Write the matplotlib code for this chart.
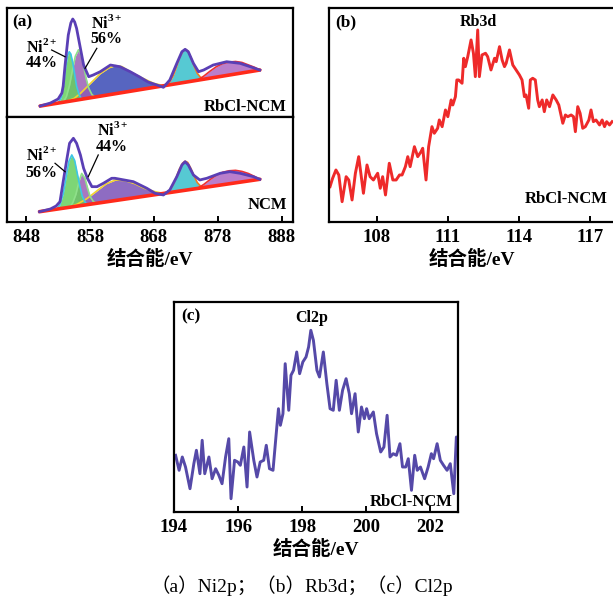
import numpy as np
import matplotlib.pyplot as plt

plt.rcParams['font.family'] = ['Liberation Serif', 'Noto Sans CJK SC']
plt.rcParams['mathtext.fontset'] = 'custom'
plt.rcParams['mathtext.bf'] = 'Liberation Serif:bold'
plt.rcParams['mathtext.rm'] = 'Liberation Serif'

# (a) Ni2p, RbCl-NCM (upper) -- envelope, baseline and fitted components (height above baseline)
env_a1_x = [850.2, 851.8, 853.0, 853.6, 853.8, 854.1, 854.6, 855.0, 855.3, 855.6, 855.9, 856.5, 857.0, 857.8,
            858.5, 859.6, 861.2, 862.7, 864.3, 865.8, 867.1, 868.5, 869.5, 870.5, 871.6, 872.4, 872.9, 873.4,
            874.2, 875.0, 875.8, 877.3, 879.4, 881.5, 883.1, 884.6]
env_a1_y = [11, 14, 18, 24, 31, 52, 82, 94, 98, 95, 88.7, 68.7, 52, 40.3,
            42, 45.3, 52, 50.3, 45.3, 40, 35, 32, 29.7, 37, 53.7, 65.3, 67.7, 65.3,
            53.7, 45.3, 47, 52, 55.3, 53.7, 50.3, 47]
base_a1_x = [850.2, 884.6]
base_a1_y = [11, 47]
ni2_a1_x = [853.0, 853.5, 853.9, 854.2, 854.5, 854.75, 855.0, 855.3, 855.6, 855.9, 856.3, 856.7]
ni2_a1_h = [0, 5, 18, 35, 46, 49.5, 47, 38, 26, 14, 5, 0]
ni3_a1_x = [853.8, 854.3, 854.8, 855.3, 855.7, 856.2, 856.6, 857.0, 857.4, 857.8, 858.3, 858.8]
ni3_a1_h = [0, 5, 16, 32, 44, 50, 45, 33, 20, 10, 3, 0]
sat1_a1_x = [854.0, 855.5, 856.5, 858.0, 859.6, 861.0, 862.0, 863.0, 864.0, 865.0, 866.0, 867.0, 868.0, 869.0, 869.7]
sat1_a1_h = [0, 2, 6, 14, 22.5, 27, 28, 26, 21, 16.5, 12, 8, 4, 1.5, 0]
p2_a1_x = [869.8, 870.5, 871.0, 871.5, 872.0, 872.5, 872.9, 873.3, 873.8, 874.3, 874.8, 875.3, 875.9]
p2_a1_h = [0, 3, 8, 16, 25, 31, 33, 31, 24, 15, 7, 2.5, 0]
sat2_a1_x = [874.8, 875.8, 876.8, 877.8, 878.8, 879.8, 880.8, 881.8, 882.8, 883.8, 884.6]
sat2_a1_h = [0, 3, 7, 10.5, 12.5, 13, 12.5, 10.5, 7, 3.5, 0]

# (a) Ni2p, NCM (lower)
env_a2_x = [850.1, 851.8, 852.7, 853.3, 853.8, 854.4, 854.8, 855.4, 855.9, 856.5, 857.0, 857.6, 858.3, 859.1,
            860.1, 861.4, 861.9, 864.8, 866.9, 868.2, 869.5, 870.5, 871.6, 872.4, 872.9, 873.4, 874.2, 875.2,
            876.3, 878.4, 879.9, 881.5, 883.6, 884.6]
env_a2_y = [10.3, 13, 16, 20.3, 40.3, 63.7, 78.7, 83.7, 78.7, 67, 53.7, 43.7, 35.3, 35.3,
            38.7, 43.7, 43.7, 40.3, 33.7, 28.7, 27, 32, 45.3, 57, 60.3, 57, 47, 42,
            43.7, 48.7, 50.3, 48.7, 45.3, 42.7]
base_a2_x = [850.1, 884.6]
base_a2_y = [10.3, 42.7]
ni2_a2_x = [852.8, 853.3, 853.8, 854.3, 854.7, 855.15, 855.6, 856.0, 856.4, 856.8, 857.3, 857.8]
ni2_a2_h = [0, 4, 14, 32, 46, 52, 46, 33, 20, 9, 2, 0]
ni3_a2_x = [854.8, 855.3, 855.8, 856.3, 856.7, 857.2, 857.6, 858.0, 858.5, 859.0]
ni3_a2_h = [0, 4, 12, 25, 32, 27, 17, 8, 2.5, 0]
sat1_a2_x = [854.5, 856.0, 857.5, 859.0, 860.5, 862.0, 863.5, 865.0, 866.5, 868.0, 869.5]
sat1_a2_h = [0, 2, 6, 12, 18, 20.5, 18.5, 14, 8, 3.5, 0]
p2_a2_x = [869.8, 870.5, 871.0, 871.5, 872.0, 872.5, 872.9, 873.3, 873.8, 874.3, 874.8, 875.3, 875.9]
p2_a2_h = [0, 2.5, 7, 14, 22, 27.5, 29, 27.5, 21, 13, 6, 2, 0]
sat2_a2_x = [874.8, 875.8, 876.8, 877.8, 878.8, 879.8, 880.8, 881.8, 882.8, 883.8, 884.6]
sat2_a2_h = [0, 3, 7, 10.5, 12.5, 13, 12.5, 10.5, 7.5, 3.5, 0]

# (b) Rb3d
rb_x = [106.03, 106.14, 106.28, 106.40, 106.54, 106.71, 106.82, 106.96, 107.10, 107.24, 107.44, 107.59, 107.72,
        107.86, 108.04, 108.15, 108.25, 108.37, 108.53, 108.68, 108.82, 108.96, 109.07, 109.21, 109.31, 109.41,
        109.59, 109.73, 109.87, 109.94, 110.08, 110.19, 110.33, 110.43, 110.57, 110.64, 110.76, 110.90, 111.00,
        111.14, 111.21, 111.32, 111.38, 111.46, 111.60, 111.67, 111.74, 111.84, 111.98, 112.08, 112.16, 112.26,
        112.33, 112.44, 112.59, 112.68, 112.82, 112.97, 113.04, 113.18, 113.29, 113.39, 113.46, 113.60, 113.74,
        113.88, 114.02, 114.13, 114.23, 114.30, 114.41, 114.48, 114.58, 114.69, 114.79, 114.86, 114.98, 115.07,
        115.17, 115.29, 115.43, 115.57, 115.68, 115.85, 115.96, 116.06, 116.20, 116.30, 116.38, 116.48, 116.58,
        116.69, 116.80, 116.95, 117.04, 117.14, 117.25, 117.40, 117.51, 117.61, 117.70, 117.82, 117.93]
rb_y = [35.3, 43.7, 52, 47, 20.3, 45.3, 42, 22, 48.7, 65.3, 28.7, 57, 45.3,
        42, 48.7, 33.7, 45.3, 27, 58.7, 42, 42, 47, 47, 55.3, 65.3, 55.3,
        75.3, 65.3, 70.3, 73.7, 42, 75.3, 95.3, 88.7, 93.7, 102, 95.3, 112, 105.3,
        122, 117, 125.3, 142, 142, 138.7, 163.7, 155.3, 165.3, 182, 168.7, 145.3, 192,
        145.3, 167, 168.7, 165.3, 152, 163.7, 160.3, 175.3, 162, 155.3, 158.7, 172, 157,
        152, 147, 142, 125.3, 127, 113.7, 142, 143.7, 142, 122, 115.3, 122, 110.3,
        122, 115.3, 127, 122, 117, 98.7, 107, 105.3, 107, 105.3, 90.3, 115.3, 108.7,
        93.7, 95.3, 102, 112, 100.3, 102, 97, 102, 95.3, 100.3, 97, 100.3]

# (c) Cl2p
cl_x = [194.05, 194.16, 194.26, 194.36, 194.50, 194.62, 194.70, 194.81, 194.88, 194.96, 195.09, 195.19, 195.30,
        195.40, 195.50, 195.61, 195.71, 195.78, 195.89, 195.99, 196.07, 196.18, 196.28, 196.36, 196.49, 196.59,
        196.69, 196.80, 196.88, 196.98, 197.09, 197.19, 197.26, 197.32, 197.40, 197.47, 197.58, 197.65, 197.73,
        197.83, 197.92, 198.02, 198.12, 198.20, 198.27, 198.35, 198.46, 198.54, 198.66, 198.77, 198.87, 198.97,
        199.06, 199.16, 199.26, 199.37, 199.47, 199.54, 199.65, 199.75, 199.85, 199.94, 200.01, 200.09, 200.22,
        200.32, 200.45, 200.55, 200.65, 200.74, 200.84, 200.94, 201.05, 201.13, 201.23, 201.31, 201.41, 201.51,
        201.59, 201.69, 201.82, 201.93, 202.03, 202.10, 202.21, 202.31, 202.41, 202.52, 202.62, 202.73, 202.81,
        202.86]
cl_y = [56.7, 41.7, 55, 45, 23.3, 48.3, 61.7, 38.3, 71.7, 38.3, 55, 33.3, 43.3,
        36.7, 28.3, 55, 73.3, 13.3, 51.7, 50, 46.7, 65, 25, 80, 51.7, 35,
        50, 51.7, 66.7, 43.3, 41.7, 78.3, 103.3, 86.7, 98.3, 148.3, 101.7, 136.7, 141.7,
        160, 138.3, 150, 155, 165, 181.7, 171.7, 141.7, 135, 160, 128.3, 103.3, 101.7,
        131.7, 101.7, 121.7, 133.3, 118.3, 98.3, 118.3, 80, 105, 93.3, 103.3, 93.3, 100,
        78.3, 60, 65, 96.7, 55, 58.3, 56.7, 68.3, 45, 45, 53.3, 21.7, 56.7,
        41.7, 45, 33.3, 45, 58.3, 53.3, 68.3, 51.7, 46.7, 41.7, 48.3, 18.3, 75,
        73.3]

a_ticks = [848, 858, 868, 878, 888]
b_ticks = [108, 111, 114, 117]
c_ticks = [194, 196, 198, 200, 202]

bold = dict(fontweight='bold', family='Liberation Serif')


def style(ax, ticks=None):
    for s in ax.spines.values():
        s.set_linewidth(1.6)
    ax.set_yticks([])
    if ticks is None:
        ax.set_xticks([])
    else:
        ax.set_xticks(ticks)
        ax.tick_params(axis='x', direction='in', length=4, width=1.4, pad=5, labelsize=13.5)
        for lab in ax.get_xticklabels():
            lab.set_fontweight('bold')
        ax.set_xlabel('结合能/eV', fontsize=14, fontweight='bold', labelpad=3)


def draw_ni(ax, env_x, env_y, base_x, base_y, comps):
    for x, h, fc, ec in comps:
        x = np.array(x)
        b = np.interp(x, base_x, base_y)
        ax.fill_between(x, b, b + np.array(h), color=fc, alpha=0.85, lw=0)
        ax.plot(x, b + np.array(h), color=ec, lw=1.2)
    ax.plot(base_x, base_y, color='#ff2a1a', lw=2.6, solid_capstyle='round')
    ax.plot(env_x, env_y, color='#5a3fb5', lw=2.0)


fig = plt.figure(figsize=(6.13, 6.07), dpi=100)

ax1 = fig.add_axes([0.0114, 0.8072, 0.4666, 0.1796])
ax2 = fig.add_axes([0.0114, 0.6343, 0.4666, 0.1730])
for ax in (ax1, ax2):
    ax.set_xlim(845.0, 889.8)
ax1.set_ylim(0, 109)
ax2.set_ylim(0, 105)

draw_ni(ax1, env_a1_x, env_a1_y, base_a1_x, base_a1_y, [
    (sat1_a1_x, sat1_a1_h, '#3a4ab5', '#f2d22e'),
    (ni3_a1_x, ni3_a1_h, '#9a5fb5', '#8fe08a'),
    (ni2_a1_x, ni2_a1_h, '#66cf5e', '#3ec6e6'),
    (p2_a1_x, p2_a1_h, '#38c0cc', '#f47a1e'),
    (sat2_a1_x, sat2_a1_h, '#ae68c2', '#f03030'),
])
draw_ni(ax2, env_a2_x, env_a2_y, base_a2_x, base_a2_y, [
    (sat1_a2_x, sat1_a2_h, '#7a52b8', '#f2d22e'),
    (ni3_a2_x, ni3_a2_h, '#9a5fb5', '#8fe08a'),
    (ni2_a2_x, ni2_a2_h, '#66cf5e', '#3ec6e6'),
    (p2_a2_x, p2_a2_h, '#38c0cc', '#f47a1e'),
    (sat2_a2_x, sat2_a2_h, '#ae68c2', '#f03030'),
])
style(ax1)
style(ax2, a_ticks)

ax1.text(0.017, 0.945, '(a)', transform=ax1.transAxes, va='top', ha='left', fontsize=12.5, **bold)
ax1.text(0.979, 0.092, 'RbCl-NCM', transform=ax1.transAxes, va='center', ha='right', fontsize=12, **bold)
ax1.text(0.068, 0.64, r'$\mathbf{Ni}^{\mathbf{2+}}$', transform=ax1.transAxes, va='center', fontsize=11.5)
ax1.text(0.066, 0.495, '44%', transform=ax1.transAxes, va='center', fontsize=11.5, **bold)
ax1.text(0.294, 0.86, r'$\mathbf{Ni}^{\mathbf{3+}}$', transform=ax1.transAxes, va='center', fontsize=11.5)
ax1.text(0.292, 0.716, '56%', transform=ax1.transAxes, va='center', fontsize=11.5, **bold)
ax1.plot([0.156, 0.203], [0.615, 0.553], transform=ax1.transAxes, color='black', lw=0.9)
ax1.plot([0.314, 0.273], [0.630, 0.447], transform=ax1.transAxes, color='black', lw=0.9)

ax2.text(0.979, 0.162, 'NCM', transform=ax2.transAxes, va='center', ha='right', fontsize=12, **bold)
ax2.text(0.068, 0.635, r'$\mathbf{Ni}^{\mathbf{2+}}$', transform=ax2.transAxes, va='center', fontsize=11.5)
ax2.text(0.066, 0.467, '56%', transform=ax2.transAxes, va='center', fontsize=11.5, **bold)
ax2.text(0.314, 0.875, r'$\mathbf{Ni}^{\mathbf{3+}}$', transform=ax2.transAxes, va='center', fontsize=11.5)
ax2.text(0.312, 0.714, '44%', transform=ax2.transAxes, va='center', fontsize=11.5, **bold)
ax2.plot([0.168, 0.203], [0.559, 0.479], transform=ax2.transAxes, color='black', lw=0.9)
ax2.plot([0.319, 0.284], [0.638, 0.431], transform=ax2.transAxes, color='black', lw=0.9)

# (b)
axb = fig.add_axes([0.5372, 0.6343, 0.4660, 0.3526])
axb.plot(rb_x, rb_y, color='#ee2a2a', lw=2.1)
axb.set_xlim(106.0, 118.05)
axb.set_ylim(0, 214)
style(axb, b_ticks)
axb.text(0.02, 0.932, '(b)', transform=axb.transAxes, va='center', ha='left', fontsize=12.5, **bold)
axb.text(0.52, 0.935, 'Rb3d', transform=axb.transAxes, va='center', ha='center', fontsize=11.5, **bold)
axb.text(0.975, 0.107, 'RbCl-NCM', transform=axb.transAxes, va='center', ha='right', fontsize=12, **bold)

# (c)
axc = fig.add_axes([0.2838, 0.1565, 0.4638, 0.3455])
axc.plot(cl_x, cl_y, color='#5549a8', lw=2.1)
axc.set_xlim(194.0, 202.87)
axc.set_ylim(0, 209.7)
style(axc, c_ticks)
axc.text(0.025, 0.931, '(c)', transform=axc.transAxes, va='center', ha='left', fontsize=12.5, **bold)
axc.text(0.484, 0.925, 'Cl2p', transform=axc.transAxes, va='center', ha='center', fontsize=11.5, **bold)
axc.text(0.981, 0.049, 'RbCl-NCM', transform=axc.transAxes, va='center', ha='right', fontsize=12, **bold)

fig.text(0.493, 0.0346, '（a）Ni2p；（b）Rb3d；（c）Cl2p', ha='center', va='center', fontsize=14)

fig.savefig('out.png', dpi=100)
